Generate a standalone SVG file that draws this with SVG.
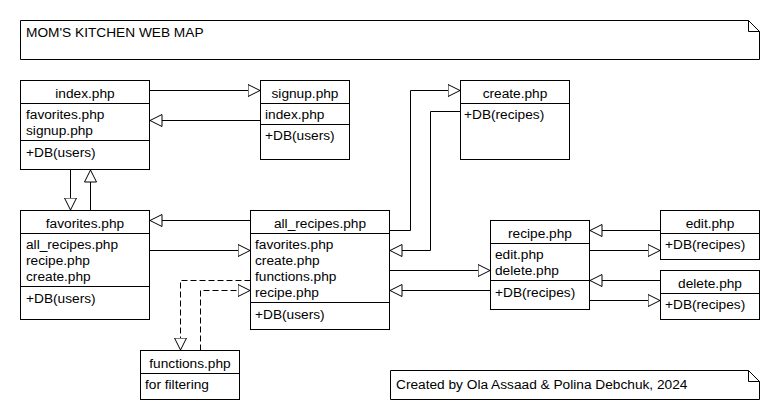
<svg xmlns="http://www.w3.org/2000/svg" width="780" height="420" viewBox="0 0 780 420">
<defs>
<style>
.box{fill:#fff;stroke:#000;stroke-width:1}
.ln{fill:none;stroke:#000;stroke-width:1}
.dash{fill:none;stroke:#000;stroke-width:1;stroke-dasharray:6,3}
text{font-family:"Liberation Sans",Arial,sans-serif;font-size:13.7px;fill:#000}
.c{text-anchor:middle}
</style>
<marker id="tri" markerUnits="userSpaceOnUse" markerWidth="14" markerHeight="14" viewBox="0 0 14 14" refX="12.5" refY="7" orient="auto">
<path d="M0.5,1 L12.5,7 L0.5,13 Z" fill="#fff" stroke="#000" stroke-width="1"/>
</marker>
</defs>
<rect width="780" height="420" fill="#fff"/>

<g id="title-note">
<path class="box" d="M20.5,20.5 H748.5 L759.5,31.5 V59.5 H20.5 Z"/>
<path class="ln" d="M748.5,20.5 V31.5 H759.5"/>
<text x="26" y="37">MOM'S KITCHEN WEB MAP</text>
</g>

<g id="connectors">
<path class="ln" d="M149.5,90.5 H260" marker-end="url(#tri)"/>
<path class="ln" d="M260.5,120.5 H150" marker-end="url(#tri)"/>
<path class="ln" d="M70.5,169.5 V210" marker-end="url(#tri)"/>
<path class="ln" d="M90.5,210.5 V170" marker-end="url(#tri)"/>
<path class="ln" d="M250.5,220.5 H150" marker-end="url(#tri)"/>
<path class="ln" d="M149.5,250.5 H250" marker-end="url(#tri)"/>
<path class="dash" d="M250.5,280.5 H180.5 V350" marker-end="url(#tri)"/>
<path class="dash" d="M200.5,350.5 V290.5 H250" marker-end="url(#tri)"/>
<path class="ln" d="M389.5,230.5 H410.5 V90.5 H460" marker-end="url(#tri)"/>
<path class="ln" d="M460.5,111.5 H430.5 V250.5 H390" marker-end="url(#tri)"/>
<path class="ln" d="M389.5,270.5 H490" marker-end="url(#tri)"/>
<path class="ln" d="M490.5,290.5 H390" marker-end="url(#tri)"/>
<path class="ln" d="M660.5,230.5 H590" marker-end="url(#tri)"/>
<path class="ln" d="M589.5,250.5 H660" marker-end="url(#tri)"/>
<path class="ln" d="M660.5,280.5 H590" marker-end="url(#tri)"/>
<path class="ln" d="M589.5,300.5 H660" marker-end="url(#tri)"/>
</g>

<g id="index">
<rect class="box" x="20.5" y="80.5" width="129" height="89"/>
<path class="ln" d="M20.5,103.5 H149.5 M20.5,140.5 H149.5"/>
<text class="c" x="85" y="98">index.php</text>
<text x="26" y="119">favorites.php</text>
<text x="26" y="135">signup.php</text>
<text x="26" y="157">+DB(users)</text>
</g>

<g id="signup">
<rect class="box" x="260.5" y="80.5" width="89" height="79"/>
<path class="ln" d="M260.5,103.5 H349.5 M260.5,124.5 H349.5"/>
<text class="c" x="305" y="98">signup.php</text>
<text x="265" y="119">index.php</text>
<text x="265" y="140">+DB(users)</text>
</g>

<g id="create">
<rect class="box" x="460.5" y="80.5" width="109" height="79"/>
<path class="ln" d="M460.5,103.5 H569.5"/>
<text class="c" x="515" y="98">create.php</text>
<text x="464" y="119">+DB(recipes)</text>
</g>

<g id="favorites">
<rect class="box" x="20.5" y="210.5" width="129" height="109"/>
<path class="ln" d="M20.5,233.5 H149.5 M20.5,286.5 H149.5"/>
<text class="c" x="85" y="228">favorites.php</text>
<text x="26" y="249">all_recipes.php</text>
<text x="26" y="265">recipe.php</text>
<text x="26" y="281">create.php</text>
<text x="26" y="303">+DB(users)</text>
</g>

<g id="all_recipes">
<rect class="box" x="250.5" y="210.5" width="139" height="119"/>
<path class="ln" d="M250.5,233.5 H389.5 M250.5,302.5 H389.5"/>
<text class="c" x="320" y="228">all_recipes.php</text>
<text x="255" y="249">favorites.php</text>
<text x="255" y="265">create.php</text>
<text x="255" y="281">functions.php</text>
<text x="255" y="297">recipe.php</text>
<text x="255" y="319">+DB(users)</text>
</g>

<g id="functions">
<rect class="box" x="140.5" y="350.5" width="99" height="49"/>
<path class="ln" d="M140.5,373.5 H239.5"/>
<text class="c" x="190" y="368">functions.php</text>
<text x="145" y="389">for filtering</text>
</g>

<g id="recipe">
<rect class="box" x="490.5" y="220.5" width="99" height="89"/>
<path class="ln" d="M490.5,243.5 H589.5 M490.5,280.5 H589.5"/>
<text class="c" x="540" y="238">recipe.php</text>
<text x="495" y="259">edit.php</text>
<text x="495" y="275">delete.php</text>
<text x="495" y="297">+DB(recipes)</text>
</g>

<g id="edit">
<rect class="box" x="660.5" y="210.5" width="99" height="49"/>
<path class="ln" d="M660.5,233.5 H759.5"/>
<text class="c" x="710" y="228">edit.php</text>
<text x="665" y="249">+DB(recipes)</text>
</g>

<g id="delete">
<rect class="box" x="660.5" y="270.5" width="99" height="49"/>
<path class="ln" d="M660.5,293.5 H759.5"/>
<text class="c" x="710" y="288">delete.php</text>
<text x="665" y="309">+DB(recipes)</text>
</g>

<g id="credit-note">
<path class="box" d="M390.5,370.5 H748.5 L759.5,381.5 V399.5 H390.5 Z"/>
<path class="ln" d="M748.5,370.5 V381.5 H759.5"/>
<text x="396" y="389">Created by Ola Assaad &amp; Polina Debchuk, 2024</text>
</g>
</svg>
